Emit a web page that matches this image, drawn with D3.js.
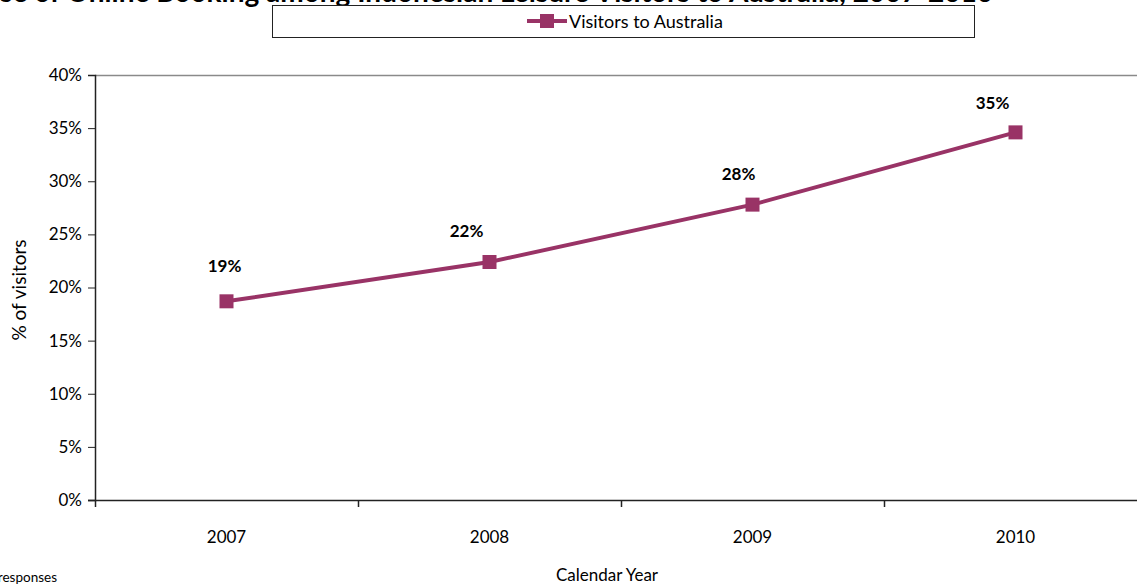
<!DOCTYPE html>
<html>
<head>
<meta charset="utf-8">
<script src="https://cdn.jsdelivr.net/npm/d3@7"></script>
<style>
  html, body { margin: 0; padding: 0; background: #fff; }
  svg { display: block; font-family: Lato, "Open Sans", sans-serif; }
</style>
</head>
<body>
<svg id="chart" width="1137" height="586"></svg>
<script>
// Share of leisure visitors booking online, by calendar year
const years = ["2007", "2008", "2009", "2010"];
const visitorsToAustralia = [18.7, 22.4, 27.8, 34.6];
const valueLabels = ["19%", "22%", "28%", "35%"];
const yTicks = [0, 5, 10, 15, 20, 25, 30, 35, 40];
const seriesName = "Visitors to Australia";
const titleText = "Use of Online Booking among Indonesian Leisure Visitors to Australia, 2007-2010";

// Hand-placed data label offsets (px, relative to each marker)
const labelNudge = [[-2, -29], [-23, -25], [-14, -25], [-23, -23]];

const color = "#993366";
const svg = d3.select("#chart");

const plot = { left: 95, right: 1147, top: 75, bottom: 500 };

const x = d3.scaleBand().domain(years).range([plot.left, plot.right]).padding(0);
const y = d3.scaleLinear().domain([0, 40]).range([plot.bottom, plot.top]);

// Title (runs past the top edge)
svg.append("text")
  .attr("x", 993).attr("y", 2)
  .attr("text-anchor", "end")
  .attr("font-size", 28).attr("font-weight", "bold")
  .attr("fill", "#000")
  .text(titleText);

// Legend
const lg = svg.append("g");
lg.append("rect")
  .attr("x", 272.5).attr("y", 5.5).attr("width", 702).attr("height", 32)
  .attr("fill", "#fff").attr("stroke", "#222").attr("stroke-width", 1);
lg.append("line")
  .attr("x1", 527).attr("x2", 567).attr("y1", 21).attr("y2", 21)
  .attr("stroke", color).attr("stroke-width", 4);
lg.append("rect")
  .attr("x", 540).attr("y", 14).attr("width", 14).attr("height", 14)
  .attr("fill", color);
lg.append("text")
  .attr("x", 569).attr("y", 28)
  .attr("font-size", 18).attr("fill", "#000")
  .text(seriesName);

// Top border of plot area
svg.append("line")
  .attr("x1", plot.left).attr("x2", 1137)
  .attr("y1", plot.top + 0.5).attr("y2", plot.top + 0.5)
  .attr("stroke", "#8a8a8a").attr("stroke-width", 1.5);

// Y axis
const yAxis = d3.axisLeft(y)
  .tickValues(yTicks)
  .tickFormat(d => d + "%")
  .tickSize(7).tickPadding(6);
const gy = svg.append("g")
  .attr("transform", `translate(${plot.left},0)`)
  .call(yAxis);
gy.select(".domain").attr("stroke", "#222").attr("stroke-width", 1.5);
gy.selectAll(".tick line").attr("stroke", "#222");
gy.selectAll(".tick text")
  .attr("font-size", 17).attr("fill", "#000")
  .attr("font-family", "Lato, 'Open Sans', sans-serif");

// X axis with ticks between categories
const gx = svg.append("g");
gx.append("line")
  .attr("x1", plot.left - 7).attr("x2", 1137)
  .attr("y1", plot.bottom + 0.5).attr("y2", plot.bottom + 0.5)
  .attr("stroke", "#222").attr("stroke-width", 1.5);
const boundaries = years.map(d => x(d)).concat([x(years[years.length - 1]) + x.bandwidth()]);
gx.selectAll("line.tick")
  .data(boundaries)
  .join("line")
  .attr("class", "tick")
  .attr("x1", d => d + 0.5).attr("x2", d => d + 0.5)
  .attr("y1", plot.bottom).attr("y2", plot.bottom + 7)
  .attr("stroke", "#222").attr("stroke-width", 1.5);
gx.selectAll("text")
  .data(years)
  .join("text")
  .attr("x", d => x(d) + x.bandwidth() / 2)
  .attr("y", 543)
  .attr("text-anchor", "middle")
  .attr("font-size", 17).attr("fill", "#000")
  .text(d => d);

// Axis titles
svg.append("text")
  .attr("transform", "translate(26,290) rotate(-90)")
  .attr("text-anchor", "middle")
  .attr("font-size", 19).attr("fill", "#000")
  .text("% of visitors");
svg.append("text")
  .attr("x", 607).attr("y", 581)
  .attr("text-anchor", "middle")
  .attr("font-size", 17).attr("fill", "#000")
  .text("Calendar Year");

// Footnote (runs past the left edge)
svg.append("text")
  .attr("x", 57).attr("y", 582)
  .attr("text-anchor", "end")
  .attr("font-size", 13.5).attr("fill", "#000")
  .text("Base: All responses");

// Series line and markers
const pts = years.map((d, i) => ({ year: d, v: visitorsToAustralia[i], label: valueLabels[i], nudge: labelNudge[i] }));
const cx = d => x(d.year) + x.bandwidth() / 2;

svg.append("path")
  .datum(pts)
  .attr("fill", "none")
  .attr("stroke", color).attr("stroke-width", 4)
  .attr("d", d3.line().x(cx).y(d => y(d.v)));

svg.selectAll("rect.marker")
  .data(pts)
  .join("rect")
  .attr("class", "marker")
  .attr("x", d => cx(d) - 7).attr("y", d => y(d.v) - 7)
  .attr("width", 14).attr("height", 14)
  .attr("fill", color);

svg.selectAll("text.value")
  .data(pts)
  .join("text")
  .attr("class", "value")
  .attr("x", d => cx(d) + d.nudge[0])
  .attr("y", d => y(d.v) + d.nudge[1])
  .attr("text-anchor", "middle")
  .attr("font-size", 17).attr("font-weight", "bold").attr("fill", "#000")
  .text(d => d.label);
</script>
</body>
</html>
